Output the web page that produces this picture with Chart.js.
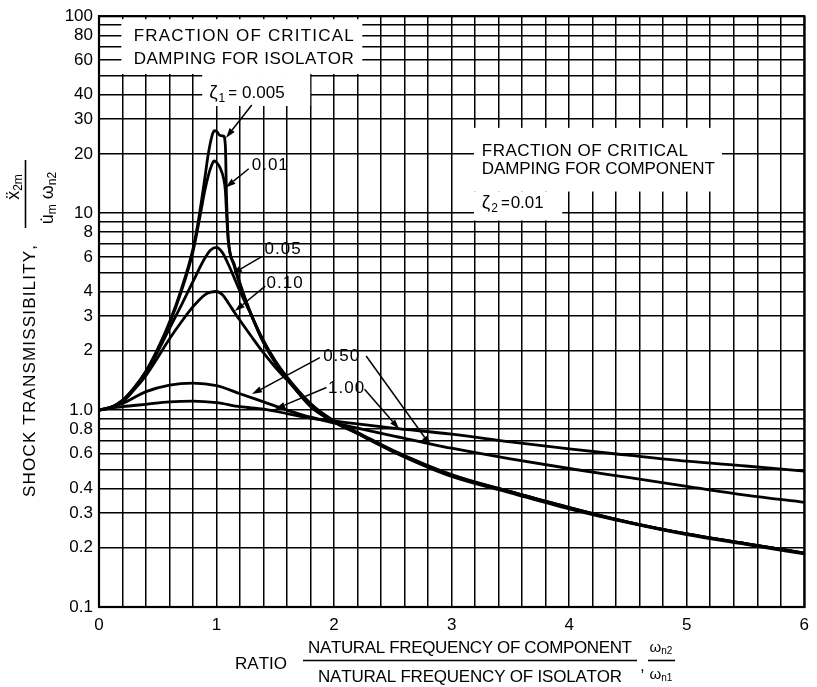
<!DOCTYPE html>
<html><head><meta charset="utf-8">
<script src="https://cdn.jsdelivr.net/npm/chart.js@4/dist/chart.umd.min.js"></script>
<style>html,body{margin:0;padding:0;background:#fff}canvas{display:block}</style>
</head><body>
<canvas id="c" width="817" height="687"></canvas>
<script>
// ---------------- data ----------------
const ratioA = [0,0.1,0.2,0.3,0.4,0.5,0.6,0.7,0.8,0.85,0.9,0.93,0.96,0.98,1.0,1.03,1.06,1.075,1.085,1.1,1.15,1.2,1.3,1.4,1.5,1.6,1.8,2.0,2.2,2.5,3.0,3.5,4.0,4.5,5.0,5.5,6.0];
const zeta005 = [1.0,1.03,1.12,1.3,1.58,2.05,2.8,4.1,6.6,9.5,15,20,24.5,26.2,26,24.8,24.6,22,12,7.4,5.5,4.4,3.0,2.2,1.75,1.45,1.05,0.87,0.76,0.62,0.465,0.385,0.32,0.27,0.235,0.21,0.188];
const zeta01  = [1.0,1.03,1.12,1.3,1.57,2.03,2.75,4.0,6.4,9,13,15.5,17.6,18.4,18.1,17,15,13,10,7.2,5.4,4.3,3.0,2.2,1.74,1.44,1.04,0.87,0.76,0.62,0.465,0.385,0.32,0.27,0.235,0.21,0.188];
const ratioB = [0,0.1,0.2,0.3,0.4,0.5,0.6,0.7,0.8,0.9,0.95,1.0,1.05,1.1,1.15,1.2,1.3,1.4,1.5,1.6,1.8,2.0,2.2,2.5,3.0,3.5,4.0,4.5,5.0,5.5,6.0];
const zeta05  = [1.0,1.03,1.11,1.29,1.55,1.98,2.6,3.4,4.5,5.9,6.5,6.7,6.3,5.5,4.7,4.0,3.0,2.25,1.78,1.47,1.08,0.88,0.77,0.625,0.47,0.385,0.318,0.27,0.235,0.21,0.188];
const zeta10  = [1.0,1.03,1.1,1.27,1.5,1.85,2.3,2.8,3.35,3.85,3.97,4.0,3.85,3.5,3.15,2.85,2.35,1.95,1.65,1.42,1.07,0.88,0.76,0.615,0.46,0.38,0.315,0.268,0.233,0.208,0.186];
const ratioC = [0,0.2,0.4,0.6,0.8,1.0,1.2,1.4,1.6,1.8,2.0,2.2,2.5,3.0,3.5,4.0,4.5,5.0,5.5,6.0];
const zeta50  = [1.0,1.08,1.24,1.34,1.37,1.33,1.21,1.1,1.0,0.92,0.86,0.81,0.74,0.64,0.565,0.505,0.455,0.41,0.37,0.34];
const zeta100 = [1.0,1.04,1.07,1.10,1.11,1.09,1.04,1.01,0.96,0.91,0.88,0.85,0.81,0.755,0.69,0.635,0.59,0.55,0.52,0.49];

const yTicks = [0.1,0.2,0.3,0.4,0.5,0.6,0.7,0.8,0.9,1,2,3,4,5,6,7,8,9,10,20,30,40,50,60,70,80,90,100];
const yLabels = [0.1,0.2,0.3,0.4,0.6,0.8,1,2,3,4,6,8,10,20,30,40,60,80,100];
const xLabels = [0,1,2,3,4,5,6];

// ---------------- styling ----------------
const FONT = '"Liberation Sans", Arial, sans-serif';
const INK = '#000';

function pts(xs, ys){ return xs.map((x,i)=>({x:x, y:ys[i]})); }
const curve = (label, xs, ys) => ({label, data: pts(xs, ys), borderColor: INK, borderWidth: 2.8,
  pointRadius: 0, fill: false, cubicInterpolationMode: 'monotone'});

// annotation text and arrows in data coordinates
const whiteBoxes = [
  [0.19, 96.6, 2.24, 50.9],
  [0.878, 50.9, 1.797, 35.0],
  [3.19, 27.1, 5.30, 12.87],
  [3.19, 12.87, 3.941, 9.18]
];
const arrows = [
  [1.300, 35.4, 1.080, 24.1],
  [1.274, 16.8, 1.078, 13.5],
  [1.388, 6.03, 1.133, 4.92],
  [1.414, 4.26, 1.156, 3.18],
  [1.879, 1.845, 1.302, 1.205],
  [2.273, 1.883, 2.821, 0.660],
  [1.935, 1.301, 1.4996, 1.012],
  [2.259, 1.277, 2.554, 0.801]
];
const valueLabels = [
  ['0.01', 1.30, 17.4],
  ['0.05', 1.409, 6.55],
  ['0.10', 1.426, 4.41],
  ['0.50', 1.907, 1.883],
  ['1.00', 1.949, 1.297]
];

function spaced(ctx, text, x, y, width, align){
  const chars = [...text];
  const ws = chars.map(c => ctx.measureText(c).width);
  const sum = ws.reduce((a,b)=>a+b,0);
  const gap = chars.length > 1 ? (width - sum)/(chars.length - 1) : 0;
  let cx = align === 'center' ? x - width/2 : x;
  ctx.textAlign = 'left';
  chars.forEach((c,i)=>{ ctx.fillText(c, cx, y); cx += ws[i] + gap; });
}
function rich(ctx, parts, x, y, align){
  let total = 0;
  parts.forEach(p=>{ ctx.font = p.size+'px '+FONT; p.w = ctx.measureText(p.t).width + (p.gap||0); total += p.w; });
  let cx = align === 'center' ? x - total/2 : x;
  ctx.textAlign = 'left';
  parts.forEach(p=>{ ctx.font = p.size+'px '+FONT; ctx.fillText(p.t, cx, y + (p.dy||0)); cx += p.w; });
  return total;
}
function arrow(ctx, x1, y1, x2, y2){
  ctx.save();
  ctx.strokeStyle = INK; ctx.fillStyle = INK; ctx.lineWidth = 1.5;
  const a = Math.atan2(y2-y1, x2-x1), L = 10, W = 3.2;
  const bx = x2 - L*Math.cos(a), by = y2 - L*Math.sin(a);
  ctx.beginPath(); ctx.moveTo(x1,y1); ctx.lineTo(bx,by); ctx.stroke();
  ctx.beginPath(); ctx.moveTo(x2,y2);
  ctx.lineTo(bx + W*Math.sin(a), by - W*Math.cos(a));
  ctx.lineTo(bx - W*Math.sin(a), by + W*Math.cos(a));
  ctx.closePath(); ctx.fill();
  ctx.restore();
}

const annotate = {
  id: 'annotate',
  beforeDatasetsDraw(chart){
    const ctx = chart.ctx, X = chart.scales.x, Y = chart.scales.y;
    const P = (x,y)=>[X.getPixelForValue(x), Y.getPixelForValue(y)];
    ctx.save();
    ctx.fillStyle = '#fff';
    whiteBoxes.forEach(b=>{
      const [x1,y1] = P(b[0],b[1]), [x2,y2] = P(b[2],b[3]);
      ctx.fillRect(x1, y1, x2-x1, y2-y1);
    });
    ctx.fillStyle = INK; ctx.textBaseline = 'middle';
    ctx.font = '17px '+FONT;
    let p = P(0.295, 79.2); spaced(ctx, 'FRACTION OF CRITICAL', p[0], p[1], 220);
    p = P(0.295, 60.2); spaced(ctx, 'DAMPING FOR ISOLATOR', p[0], p[1], 220);
    p = P(3.257, 20.5); spaced(ctx, 'FRACTION OF CRITICAL', p[0], p[1], 206);
    p = P(3.257, 16.6); spaced(ctx, 'DAMPING FOR COMPONENT', p[0], p[1], 233);
    ctx.textBaseline = 'alphabetic';
    p = P(0.937, 41.2);
    rich(ctx, [{t:'ζ',size:19,gap:1},{t:'1',size:12,dy:4,gap:3},{t:'= ',size:15,gap:1},{t:'0.005',size:17}], p[0], p[1]+6, 'left');
    p = P(3.257, 11.45);
    rich(ctx, [{t:'ζ',size:19,gap:1},{t:'2',size:12,dy:4,gap:3},{t:'=',size:15,gap:1},{t:'0.01',size:17}], p[0], p[1]+6, 'left');
    ctx.textBaseline = 'middle'; ctx.font = '17px '+FONT;
    valueLabels.forEach(v=>{ const q = P(v[1], v[2]); spaced(ctx, v[0], q[0], q[1], 36); });
    ctx.restore();
  },
  afterDatasetsDraw(chart){
    const ctx = chart.ctx, X = chart.scales.x, Y = chart.scales.y, a = chart.chartArea;
    arrows.forEach(r=>arrow(ctx, X.getPixelForValue(r[0]), Y.getPixelForValue(r[1]), X.getPixelForValue(r[2]), Y.getPixelForValue(r[3])));
    ctx.save();
    ctx.strokeStyle = INK; ctx.lineWidth = 2.2;
    ctx.strokeRect(a.left, a.top, a.right-a.left, a.bottom-a.top);
    ctx.fillStyle = INK; ctx.textBaseline = 'middle'; ctx.font = '17px '+FONT;
    ctx.translate(30, 371); ctx.rotate(-Math.PI/2);
    spaced(ctx, 'SHOCK TRANSMISSIBILITY,', 0, 0, 252, 'center');
    ctx.restore();
    ctx.save();
    ctx.fillStyle = INK; ctx.strokeStyle = INK; ctx.textBaseline = 'alphabetic';
    ctx.save(); ctx.translate(19, 187); ctx.rotate(-Math.PI/2);
    rich(ctx, [{t:'ẍ',size:18},{t:'2m',size:12,dy:3}], 0, 0, 'center'); ctx.restore();
    ctx.lineWidth = 1.6; ctx.beginPath(); ctx.moveTo(25.5, 160); ctx.lineTo(25.5, 228); ctx.stroke();
    ctx.save(); ctx.translate(53, 198); ctx.rotate(-Math.PI/2);
    rich(ctx, [{t:'u̇',size:18},{t:'m',size:12,dy:3,gap:5},{t:'ω',size:18},{t:'n2',size:12,dy:3}], 0, 0, 'center'); ctx.restore();
    ctx.textBaseline = 'middle'; ctx.font = '17px '+FONT;
    spaced(ctx, 'RATIO', 235, 664, 52);
    spaced(ctx, 'NATURAL FREQUENCY OF COMPONENT', 308, 648, 324);
    ctx.lineWidth = 1.6; ctx.beginPath(); ctx.moveTo(303, 660.5); ctx.lineTo(637, 660.5); ctx.stroke();
    spaced(ctx, 'NATURAL FREQUENCY OF ISOLATOR', 318, 677, 304);
    ctx.fillText(',', 640, 666);
    ctx.textBaseline = 'alphabetic';
    rich(ctx, [{t:'ω',size:15},{t:'n2',size:10,dy:2}], 661, 652, 'center');
    ctx.beginPath(); ctx.moveTo(648, 660.5); ctx.lineTo(675, 660.5); ctx.stroke();
    rich(ctx, [{t:'ω',size:15},{t:'n1',size:10,dy:2}], 661, 679, 'center');
    ctx.restore();
  }
};

new Chart(document.getElementById('c'), {
  type: 'line',
  data: { datasets: [
    curve('0.005', ratioA, zeta005),
    curve('0.01', ratioA, zeta01),
    curve('0.05', ratioB, zeta05),
    curve('0.10', ratioB, zeta10),
    curve('0.50', ratioC, zeta50),
    curve('1.00', ratioC, zeta100)
  ]},
  options: {
    responsive: false, animation: false, devicePixelRatio: 1,
    layout: { padding: { left: 0, right: 7, top: 14, bottom: 0 } },
    plugins: { legend: { display: false }, tooltip: { enabled: false } },
    scales: {
      x: {
        type: 'linear', min: 0, max: 6,
        afterFit(s){ s.height = 80; },
        ticks: { stepSize: 0.2, autoSkip: false, maxRotation: 0, padding: 8, color: INK,
          font: { family: FONT, size: 17 },
          callback: v => { const r = Math.round(v); return (Math.abs(v-r) < 1e-6 && xLabels.includes(r)) ? String(r) : ''; } },
        grid: { color: INK, lineWidth: 1.5, drawTicks: false },
        border: { color: INK, width: 2 }
      },
      y: {
        type: 'logarithmic', min: 0.1, max: 100,
        afterFit(s){ s.width = 99; },
        afterBuildTicks(s){ s.ticks = yTicks.map(v => ({ value: v })); },
        ticks: { autoSkip: false, padding: 6, color: INK, font: { family: FONT, size: 17 },
          callback: v => yLabels.includes(v) ? (v === 1 ? '1.0' : String(v)) : '' },
        grid: { color: INK, lineWidth: 1.5, drawTicks: false },
        border: { color: INK, width: 2 }
      }
    }
  },
  plugins: [annotate]
});
</script>
</body></html>
